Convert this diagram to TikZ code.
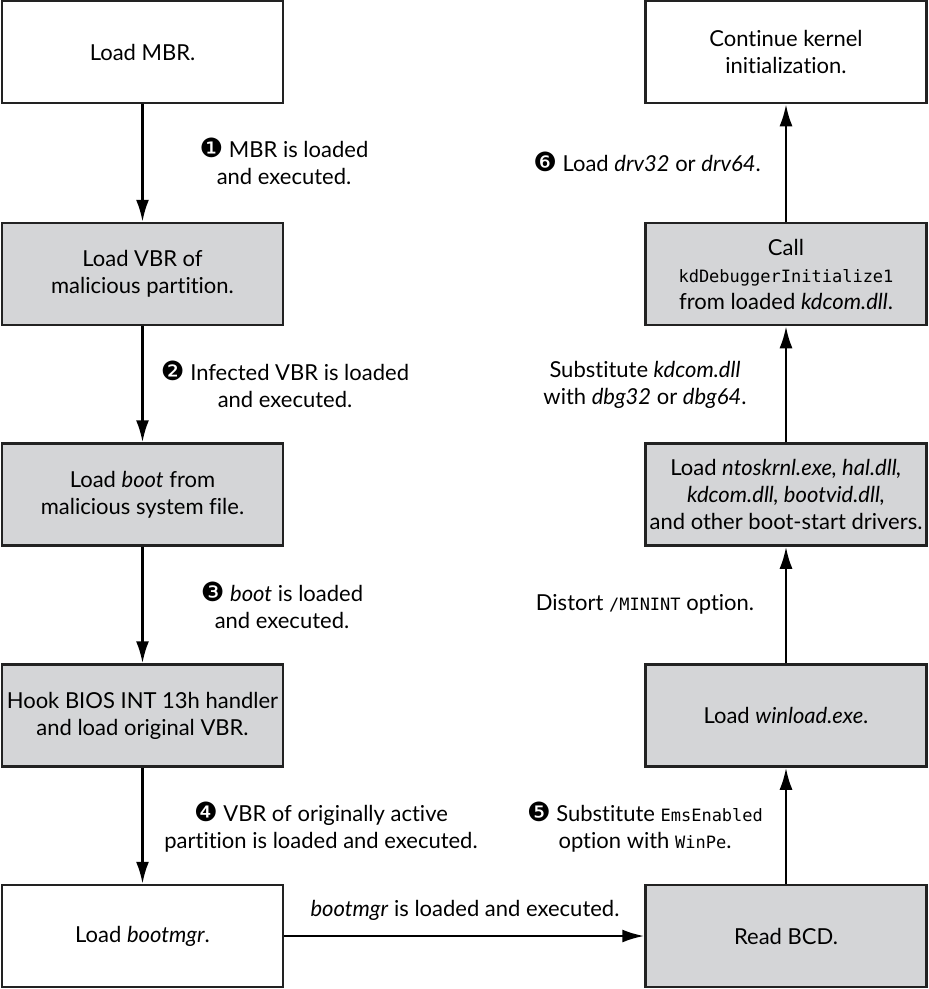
\documentclass[tikz,border=0pt]{standalone}
\usepackage{fontspec}
\setmainfont{Lato}[Ligatures=NoCommon]
\newfontfamily\codefont{DejaVu Sans Mono}
\newfontfamily\dingfont{DejaVu Sans}[Scale=1.2]
\newcommand{\code}[1]{{\codefont\fontsize{17}{27}\selectfont #1}}
\newcommand{\circnum}[1]{{\dingfont #1}}
\usetikzlibrary{arrows.meta}
\definecolor{boxgray}{RGB}{212,213,215}
\definecolor{boxline}{RGB}{34,34,34}

\begin{document}
\begin{tikzpicture}[x=1pt, y=-1pt, ->, >={Latex[length=22pt,width=13pt]}, line width=2.5pt,
  every node/.style={font=\fontsize{22}{27}\selectfont, align=center},
  box/.style={draw=boxline, line width=2.5pt, minimum width=281pt, minimum height=102pt, inner sep=2pt},
  shaded/.style={box, fill=boxgray}]
\useasboundingbox (0,0) rectangle (929,989);
\node[box] (mbr) at (142.5,52) {Load MBR.};
\node[shaded] (vbr) at (142.5,274) {Load VBR of\\malicious partition.};
\node[shaded] (boot) at (142.5,494.5) {Load \textit{boot} from\\malicious system file.};
\node[shaded] (hook) at (142.5,715.5) {Hook BIOS INT 13h handler\\and load original VBR.};
\node[box] (bootmgr) at (142.5,936) {Load \textit{bootmgr}.};
\node[shaded] (bcd) at (786,936) {Read BCD.};
\node[shaded] (winload) at (786,715.5) {Load \textit{winload.exe}.};
\node[shaded] (ntos) at (786,494.5) {Load \textit{ntoskrnl.exe, hal.dll,}\\\textit{kdcom.dll, bootvid.dll,}\\and other boot-start drivers.};
\node[shaded] (call) at (786,274) {Call\\\code{kdDebuggerInitialize1}\\from loaded \textit{kdcom.dll}.};
\node[box] (kernel) at (786,52) {Continue kernel\\initialization.};
\node (l1) at (284,161) {\circnum{❶} MBR is loaded\\and executed.};
\node (l2) at (285,384.5) {\circnum{❷} Infected VBR is loaded\\and executed.};
\node (l3) at (282,605.5) {\circnum{❸} \textit{boot} is loaded\\and executed.};
\node (l4) at (321,827) {\circnum{❹} VBR of originally active\\partition is loaded and executed.};
\node (l5) at (645,827) {\circnum{❺} Substitute \code{EmsEnabled}\\option with \code{WinPe}.};
\node (l6) at (647,162) {\circnum{❻} Load \textit{drv32} or \textit{drv64}.};
\node (l7) at (645,384.5) {Substitute \textit{kdcom.dll}\\with \textit{dbg32} or \textit{dbg64}.};
\node (l8) at (645,604) {Distort \code{/MININT} option.};
\node (l9) at (465,910) {\textit{bootmgr} is loaded and executed.};
\draw (mbr) -- (vbr);
\draw (vbr) -- (boot);
\draw (boot) -- (hook);
\draw (hook) -- (bootmgr);
\draw (bootmgr) -- (bcd);
\draw (bcd) -- (winload);
\draw (winload) -- (ntos);
\draw (ntos) -- (call);
\draw (call) -- (kernel);
\end{tikzpicture}
\end{document}
